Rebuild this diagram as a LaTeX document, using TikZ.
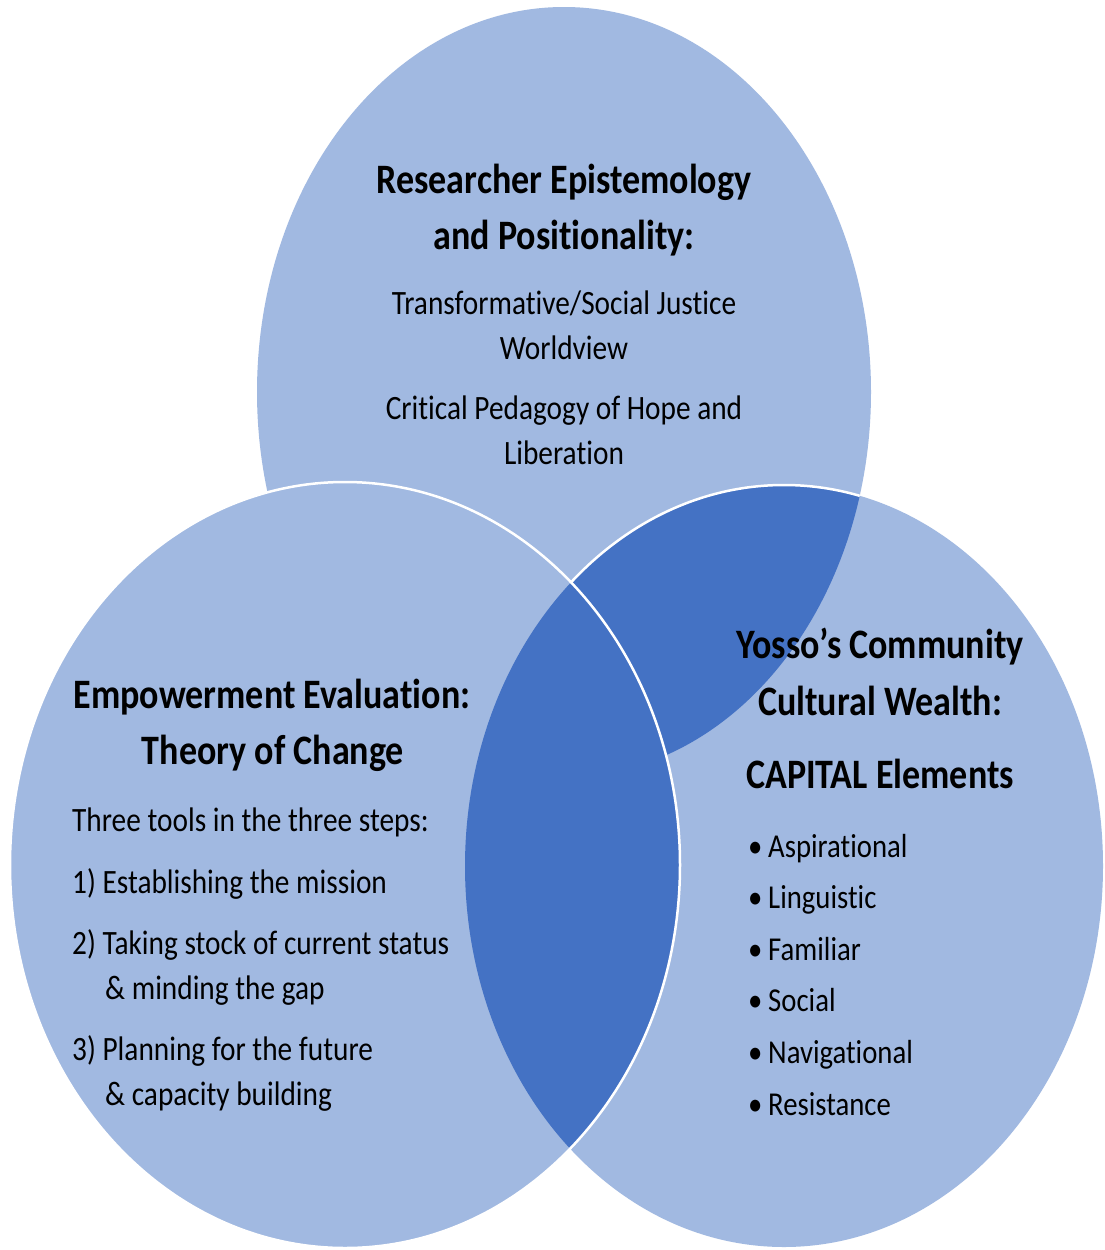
\documentclass[tikz,border=0pt]{standalone}
\usepackage{fontspec}
\newfontfamily\vennfont[FakeStretch=0.86,Ligatures=NoCommon]{Carlito}
\definecolor{vennlight}{RGB}{161,185,225}
\definecolor{venndark}{RGB}{68,114,196}
\begin{document}
\begin{tikzpicture}[x=1pt,y=-1pt,
  heading/.style={font=\vennfont\bfseries\fontsize{41.9}{50}\selectfont, anchor=base, inner sep=0pt},
  bodytext/.style={font=\vennfont\fontsize{34.1}{40}\selectfont, anchor=base, inner sep=0pt},
  bodyleft/.style={bodytext, anchor=base west},
  bullettext/.style={bodyleft, font=\vennfont\fontsize{33.4}{40}\selectfont},
  rim/.style={white, line width=2.5pt},
  topshape/.style={x radius=307pt, y radius=385pt},
  leftshape/.style={x radius=335pt, y radius=383pt},
  rightshape/.style={x radius=319pt, y radius=381pt}]
\fill[white] (0,0) rectangle (1104,1250);
\useasboundingbox (0,0) rectangle (1104,1250);

% centres of the three sets
\coordinate (ct) at (564,392);
\coordinate (cl) at (345,865);
\coordinate (cr) at (784,866);

% top and right sets, with their shared part in the darker blue
\fill[vennlight] (ct) ellipse [topshape];
\fill[vennlight] (cr) ellipse [rightshape];
\begin{scope}
  \clip (cr) ellipse [rightshape];
  \fill[venndark] (ct) ellipse [topshape];
\end{scope}
\begin{scope}
  \clip (ct) ellipse [topshape];
  \draw[rim] (cr) ellipse [rightshape];
\end{scope}

% left set on top, its overlap with the right set in the darker blue
\fill[vennlight] (cl) ellipse [leftshape];
\begin{scope}
  \clip (cr) ellipse [rightshape];
  \fill[venndark] (cl) ellipse [leftshape];
\end{scope}
\draw[rim] (cl) ellipse [leftshape];

% top set
\node[heading] (t1) at (564,193) {Researcher Epistemology};
\node[heading] (t2) at (564,249) {and Positionality:};
\node[bodytext] (t3) at (564,314) {Transformative/Social Justice};
\node[bodytext] (t4) at (564,359) {Worldview};
\node[bodytext] (t5) at (564,419) {Critical Pedagogy of Hope and};
\node[bodytext] (t6) at (564,464) {Liberation};

% left set
\node[heading] (l1) at (272,708) {Empowerment Evaluation:};
\node[heading] (l2) at (273,764) {Theory of Change};
\node[bodyleft] (l3) at (72,831) {Three tools in the three steps:};
\node[bodyleft] (l4) at (72,893) {1) Establishing the mission};
\node[bodyleft] (l5) at (72,954) {2) Taking stock of current status};
\node[bodyleft] (l6) at (105,999) {\& minding the gap};
\node[bodyleft] (l7) at (72,1060) {3) Planning for the future};
\node[bodyleft] (l8) at (105,1105) {\& capacity building};

% right set
\node[heading] (r1) at (880,658) {Yosso’s Community};
\node[heading] (r2) at (880,715) {Cultural Wealth:};
\node[heading] (r3) at (880,788) {CAPITAL Elements};
\foreach \word [count=\i] in {Aspirational,Linguistic,Familiar,Social,Navigational,Resistance}
  \node[bullettext] (b\i) at (748,{857+51.6*(\i-1)}) {\makebox[20pt][l]{•}\word};
\end{tikzpicture}
\end{document}
